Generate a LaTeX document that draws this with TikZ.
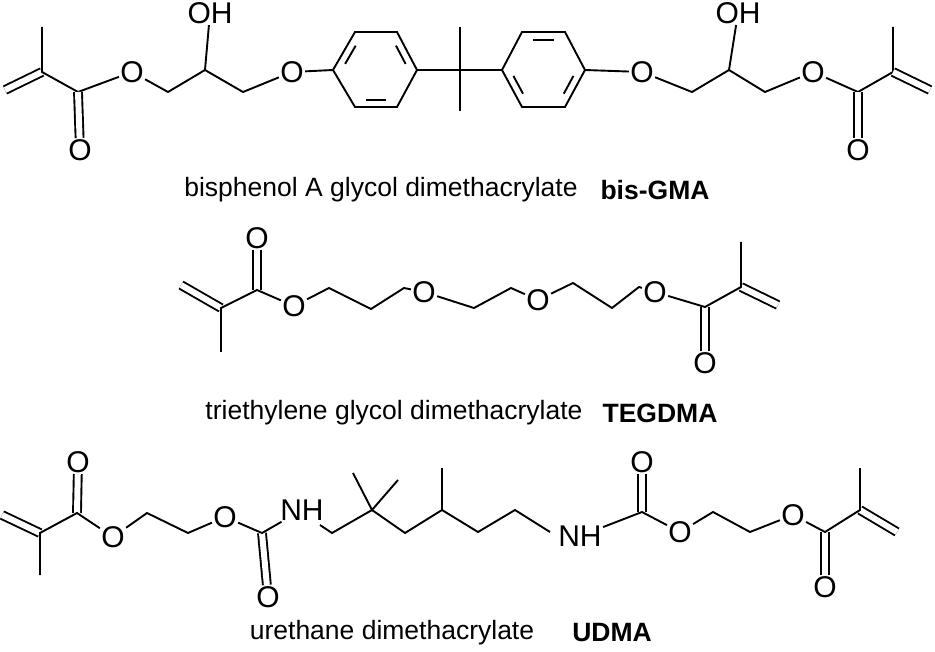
\documentclass[tikz,border=0pt]{standalone}
\usepackage{fontspec}
\setmainfont{Liberation Sans}
\usetikzlibrary{calc}
\begin{document}
\begin{tikzpicture}[x=1pt,y=-1pt,line width=1.9pt,
  atom/.style={inner sep=0.5pt,font=\fontsize{30}{30}\selectfont},
  lbl/.style={font=\fontsize{26.5}{26.5}\selectfont},
  blbl/.style={font=\fontsize{26.5}{26.5}\selectfont\bfseries},
  dbl/.style={double,double distance=6pt}]
\useasboundingbox (0,0) rectangle (935,652);
% ---------- bis-GMA ----------
\coordinate (a1) at (5,90); \coordinate (a2) at (42,72); \coordinate (a3) at (42,27);
\coordinate (a4) at (78,92); \node[atom] (aO1) at (80,150) {O};
\node[atom] (aO2) at (132,72) {O};
\coordinate (a5) at (168,92); \coordinate (a6) at (205,70);
\node[atom] (aOH) at (210,13) {OH};
\coordinate (a7) at (243,92); \node[atom] (aO3) at (292,72) {O};
\coordinate (r1) at (333,70); \coordinate (r2) at (355,32); \coordinate (r3) at (397,32);
\coordinate (r4) at (417,70); \coordinate (r5) at (397,107); \coordinate (r6) at (355,107);
\coordinate (rc) at (376,70);
\coordinate (q) at (460,70); \coordinate (q1) at (460,27); \coordinate (q2) at (460,111);
\coordinate (s1) at (502,70); \coordinate (s2) at (522,32); \coordinate (s3) at (565,32);
\coordinate (s4) at (585,70); \coordinate (s5) at (565,107); \coordinate (s6) at (522,107);
\coordinate (sc) at (543,70);
\node[atom] (bO3) at (642,72) {O};
\coordinate (b7) at (692,92); \coordinate (b6) at (729,70);
\node[atom] (bOH) at (738,13) {OH};
\coordinate (b5) at (765,92); \node[atom] (bO2) at (813,72) {O};
\coordinate (b4) at (858,92); \node[atom] (bO1) at (858,150) {O};
\coordinate (b2) at (893,72); \coordinate (b3) at (893,27); \coordinate (b1) at (930,90);
\draw[dbl] (a1) -- (a2);
\draw (a3) -- (a2) -- (a4) -- (aO2) -- (a5) -- (a6) -- (a7) -- (aO3) -- (r1);
\draw[dbl] (a4) -- (aO1);
\draw (a6) -- (aOH);
\draw (r1) -- (r2) -- (r3) -- (r4) -- (r5) -- (r6) -- cycle;
\draw (r4) -- (q) -- (s1); \draw (q1) -- (q2);
\draw (s1) -- (s2) -- (s3) -- (s4) -- (s5) -- (s6) -- cycle;
\foreach \p/\qq in {r1/r2,r3/r4,r5/r6} \draw ($($(\p)!.2!(\qq)$)!.2!(rc)$) -- ($($(\p)!.8!(\qq)$)!.2!(rc)$);
\foreach \p/\qq in {s2/s3,s4/s5,s6/s1} \draw ($($(\p)!.2!(\qq)$)!.2!(sc)$) -- ($($(\p)!.8!(\qq)$)!.2!(sc)$);
\draw (s4) -- (bO3) -- (b7) -- (b6) -- (b5) -- (bO2) -- (b4) -- (b2) -- (b3);
\draw (b6) -- (bOH);
\draw[dbl] (b4) -- (bO1); \draw[dbl] (b2) -- (b1);
\node[lbl] (n1) at (381,190) {bisphenol A glycol dimethacrylate};
\node[blbl] (n2) at (655,190) {bis-GMA};
% ---------- TEGDMA ----------
\coordinate (t1) at (181,285); \coordinate (t2) at (221,308); \coordinate (t3) at (221,352);
\coordinate (t4) at (257,290); \node[atom] (tO1) at (257,238) {O};
\node[atom] (tO2) at (294,306) {O};
\coordinate (t5) at (329,288); \coordinate (t6) at (371,309); \coordinate (t7) at (404,288);
\node[atom] (tO3) at (424,292) {O};
\coordinate (t8) at (474,308); \coordinate (t9) at (511,288);
\node[atom] (tO4) at (538,300) {O};
\coordinate (t10) at (573,283); \coordinate (t11) at (612,308); \coordinate (t12) at (639,287);
\node[atom] (tO5) at (655,292) {O};
\coordinate (t13) at (705,307); \node[atom] (tO6) at (705,363) {O};
\coordinate (t14) at (741,287); \coordinate (t15) at (741,242); \coordinate (t16) at (778,305);
\draw[dbl] (t1) -- (t2); \draw[dbl] (t4) -- (tO1); \draw[dbl] (t13) -- (tO6); \draw[dbl] (t14) -- (t16);
\draw (t3) -- (t2) -- (t4) -- (tO2) -- (t5) -- (t6) -- (t7) -- (tO3) -- (t8) -- (t9) -- (tO4) -- (t10) -- (t11) -- (t12) -- (tO5) -- (t13) -- (t14) -- (t15);
\node[lbl] (n3) at (394,413) {triethylene glycol dimethacrylate};
\node[blbl] (n4) at (660,413) {TEGDMA};
% ---------- UDMA ----------
\coordinate (u1) at (2,515); \coordinate (u2) at (40,533); \coordinate (u3) at (40,575);
\coordinate (u4) at (77,513); \node[atom] (uO1) at (78,462) {O};
\node[atom] (uO2) at (113,537) {O};
\coordinate (u5) at (147,513); \coordinate (u6) at (188,533);
\node[atom] (uO3) at (225,517) {O};
\coordinate (u7) at (262,533); \node[atom] (uO4) at (268,597) {O};
\node[atom] (uN1) at (302,510) {NH};
\coordinate (u8) at (332,533); \coordinate (u9) at (372,510);
\coordinate (u10) at (353,473); \coordinate (u11) at (398,480);
\coordinate (u12) at (405,533); \coordinate (u13) at (442,510); \coordinate (u14) at (442,468);
\coordinate (u15) at (478,532); \coordinate (u16) at (515,510); \coordinate (u17) at (550,532);
\node[atom] (uN2) at (580,536) {NH};
\coordinate (u18) at (642,512); \node[atom] (uO5) at (642,462) {O};
\node[atom] (uO6) at (680,532) {O};
\coordinate (u19) at (713,512); \coordinate (u20) at (750,532);
\node[atom] (uO7) at (793,515) {O};
\coordinate (u21) at (825,532); \node[atom] (uO8) at (825,587) {O};
\coordinate (u22) at (860,510); \coordinate (u23) at (860,468); \coordinate (u24) at (897,532);
\draw[dbl] (u1) -- (u2); \draw[dbl] (u4) -- (uO1); \draw[dbl] (u7) -- (uO4);
\draw[dbl] (u18) -- (uO5); \draw[dbl] (u21) -- (uO8); \draw[dbl] (u22) -- (u24);
\draw (u3) -- (u2) -- (u4) -- (uO2) -- (u5) -- (u6) -- (uO3) -- (u7) -- (uN1);
\coordinate (u8s) at (320,525);
\draw (u8s) -- (u8) -- (u9) -- (u12) -- (u13) -- (u15) -- (u16) -- (u17);
\draw (u10) -- (u9) -- (u11); \draw (u13) -- (u14);
\draw (uN2) -- (u18) -- (uO6) -- (u19) -- (u20) -- (uO7) -- (u21) -- (u22) -- (u23);
\node[lbl] (n5) at (392,633) {urethane dimethacrylate};
\node[blbl] (n6) at (612,633) {UDMA};
\end{tikzpicture}
\end{document}
